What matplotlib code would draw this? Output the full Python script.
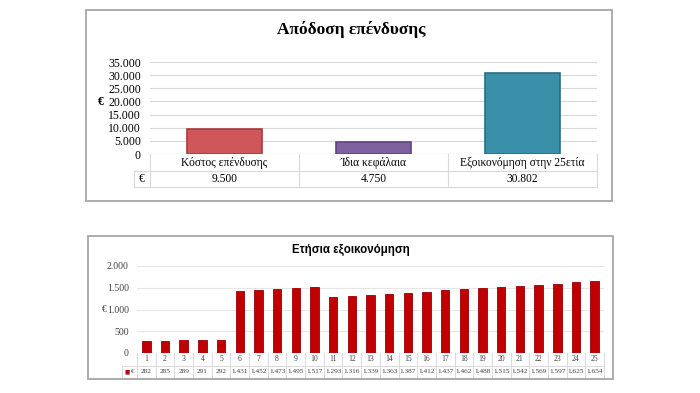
import matplotlib
matplotlib.use("Agg")
from matplotlib import pyplot as plt
from matplotlib.patches import Rectangle
import numpy as np

# --- data ---
inv_title = "Απόδοση επένδυσης"
inv_categories = ["Κόστος επένδυσης", "Ίδια κεφάλαια", "Εξοικονόμηση στην 25ετία"]
inv_values = [9500, 4750, 30802]
inv_colors = ["#CF5759", "#7E62A0", "#3A90A8"]
inv_edges = ["#A63D3F", "#5E4580", "#2A6E82"]
inv_ticks = [0, 5000, 10000, 15000, 20000, 25000, 30000, 35000]

sav_title = "Ετήσια εξοικονόμηση"
sav_years = list(range(1, 26))
sav_values = [282, 285, 289, 291, 292, 1431, 1452, 1473, 1495, 1517,
              1293, 1316, 1339, 1363, 1387, 1412, 1437, 1462, 1488, 1515,
              1542, 1569, 1597, 1625, 1654]
sav_ticks = [0, 500, 1000, 1500, 2000]

W, H = 700, 393
SERIF = "Liberation Serif"
GRID = "#D9D9D9"


def fmt(v):
    return f"{v:,}".replace(",", ".")


def px_axes(fig, left, top, right, bottom):
    return fig.add_axes([left / W, 1 - bottom / H, (right - left) / W, (bottom - top) / H])


fig = plt.figure(figsize=(7, 3.93), dpi=100)
fig.patch.set_facecolor("white")

# outer frames
for (l, t, r, b) in [(86, 10, 612, 201), (88, 236, 613, 379)]:
    fig.patches.append(Rectangle((l / W, 1 - b / H), (r - l) / W, (b - t) / H,
                                 transform=fig.transFigure, fill=False,
                                 edgecolor="#A6A6A6", linewidth=1.3))

# ---------- top chart ----------
ax = px_axes(fig, 150, 62, 597, 154)
x = np.arange(len(inv_categories))
ax.bar(x, inv_values, width=0.5, color=inv_colors, edgecolor=inv_edges, linewidth=1.2, zorder=3)
ax.set_xlim(-0.5, len(inv_categories) - 0.5)
ax.set_ylim(0, 35000)
ax.set_yticks(inv_ticks)
ax.set_yticklabels([fmt(t) for t in inv_ticks], fontsize=8.5, family=SERIF)
ax.tick_params(axis="y", length=0, pad=6.5)
ax.set_xticks([])
ax.yaxis.grid(True, color=GRID, linewidth=0.8, zorder=0)
for s in ax.spines.values():
    s.set_visible(False)
ax.axhline(0, color=GRID, linewidth=0.8, zorder=2)
fig.text(98 / W, 1 - 102 / H, "€", fontsize=8.5, family=SERIF, fontweight="bold",
         ha="left", va="center")
fig.text(351 / W, 1 - 29 / H, inv_title, fontsize=12.5, family=SERIF, fontweight="bold",
         ha="center", va="center")

# data table under top chart
n = len(inv_categories)
r1, r2 = -17 / 92, -33 / 92
tr = ax.get_xaxis_transform()
xl = -0.5 - (16 / 447) * n
tbl_kw = dict(transform=tr, clip_on=False, color=GRID, linewidth=0.8)
ax.plot([xl, n - 0.5], [r1, r1], **tbl_kw)
ax.plot([xl, n - 0.5], [r2, r2], **tbl_kw)
ax.plot([xl, xl], [r1, r2], **tbl_kw)
for b in np.arange(-0.5, n, 1.0):
    ax.plot([b, b], [0, r2], **tbl_kw)
for i, (c, v) in enumerate(zip(inv_categories, inv_values)):
    ax.text(i, r1 / 2, c, transform=tr, ha="center", va="center", fontsize=8.3, family=SERIF)
    ax.text(i, (r1 + r2) / 2, fmt(v), transform=tr, ha="center", va="center", fontsize=8.3, family=SERIF)
ax.text((xl - 0.5) / 2, (r1 + r2) / 2, "€", transform=tr, ha="center", va="center",
        fontsize=8.3, family=SERIF)

# ---------- bottom chart ----------
ax2 = px_axes(fig, 137, 266, 604, 353)
x2 = np.arange(len(sav_years))
ax2.bar(x2, sav_values, width=0.45, color="#C00000", edgecolor="#9A0000", linewidth=0.6, zorder=3)
ax2.set_xlim(-0.5, len(sav_years) - 0.5)
ax2.set_ylim(0, 2000)
ax2.set_yticks(sav_ticks)
ax2.set_yticklabels([fmt(t) for t in sav_ticks], fontsize=7, family=SERIF, color="#404040")
ax2.tick_params(axis="y", length=0, pad=5.8)
ax2.set_xticks([])
ax2.yaxis.grid(True, color="#E6E6E6", linewidth=0.8, zorder=0)
for s in ax2.spines.values():
    s.set_visible(False)
ax2.axhline(0, color=GRID, linewidth=0.8, zorder=2)
fig.text(102 / W, 1 - 310 / H, "€", fontsize=7, family=SERIF, color="#404040",
         ha="left", va="center")
fig.text(351 / W, 1 - 250 / H, sav_title, fontsize=8.3, family="Liberation Sans", fontweight="bold",
         ha="center", va="center")

n2 = len(sav_years)
q1, q2 = -12.5 / 87, -25 / 87
tr2 = ax2.get_xaxis_transform()
xl2 = -0.5 - (15 / 467) * n2
tbl_kw2 = dict(transform=tr2, clip_on=False, color=GRID, linewidth=0.7)
ax2.plot([xl2, n2 - 0.5], [q1, q1], **tbl_kw2)
ax2.plot([xl2, n2 - 0.5], [q2, q2], **tbl_kw2)
ax2.plot([xl2, xl2], [q1, q2], **tbl_kw2)
for b in np.arange(-0.5, n2, 1.0):
    ax2.plot([b, b], [0, q2], **tbl_kw2)
for i, (yr, v) in enumerate(zip(sav_years, sav_values)):
    ax2.text(i, q1 / 2, str(yr), transform=tr2, ha="center", va="center", fontsize=5.5,
             family=SERIF, color="#404040")
    ax2.text(i, (q1 + q2) / 2, fmt(v), transform=tr2, ha="center", va="center", fontsize=5.2,
             family=SERIF, color="#404040")
mid = (xl2 - 0.5) / 2
ax2.text(mid - 0.12, (q1 + q2) / 2, "■", transform=tr2, ha="center", va="center",
         fontsize=4, color="#C00000", family="DejaVu Sans")
ax2.text(mid + 0.18, (q1 + q2) / 2, "€", transform=tr2, ha="center", va="center",
         fontsize=5.2, family=SERIF, color="#404040")

fig.savefig("out.png", dpi=100)
